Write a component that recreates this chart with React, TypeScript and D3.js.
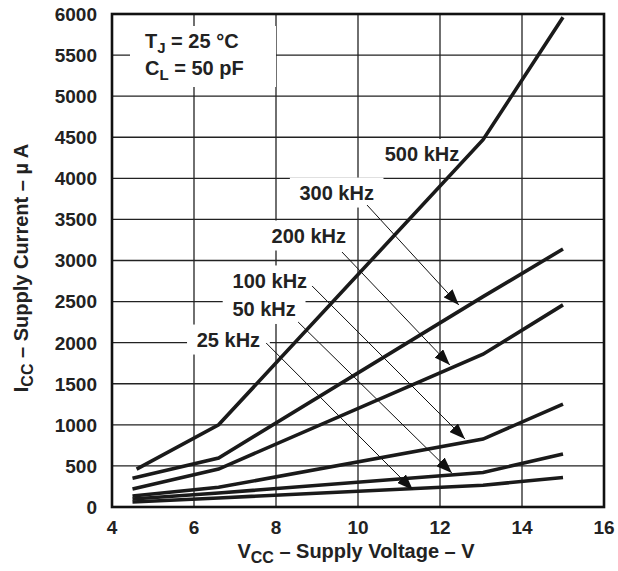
import React from 'react';
import * as d3 from 'd3';

// supply voltage (V) at the corner points of each curve
const vcc500 = [4.6, 6.6, 13.05, 15.0];
const vccOther = [4.5, 6.6, 13.05, 15.0];

// supply current (uA) per frequency
const icc500 = [460, 1000, 4470, 5960];
const icc300 = [350, 596, 2560, 3140];
const icc200 = [220, 462, 1860, 2460];
const icc100 = [134, 240, 827, 1253];
const icc50 = [97, 170, 420, 645];
const icc25 = [60, 110, 265, 360];

const freqLabels = ['500 kHz', '300 kHz', '200 kHz', '100 kHz', '50 kHz', '25 kHz'];
// label centres (data units)
const labelV = [11.56, 9.48, 8.8, 7.85, 7.71, 6.84];
const labelI = [4296, 3827, 3304, 2757, 2410, 2038];
// leader arrows: from label to curve (null for 500 kHz)
const arrowFrom = [null, [10.22, 3675], [9.61, 3103], [8.88, 2690], [8.54, 2251], [7.76, 1996]];
const arrowTo = [null, [12.46, 2458], [12.24, 1728], [12.61, 827], [12.29, 414], [11.34, 207]];

const xTicks = [4, 6, 8, 10, 12, 14, 16];
const yTicks = [0, 500, 1000, 1500, 2000, 2500, 3000, 3500, 4000, 4500, 5000, 5500, 6000];

const W = 618, H = 571;
const left = 112, top = 14, right = 604, bottom = 507;
const font = '"Liberation Sans", Arial, Helvetica, sans-serif';

export default function App() {
  const x = d3.scaleLinear().domain([4, 16]).range([left, right]);
  const y = d3.scaleLinear().domain([0, 6000]).range([bottom, top]);

  const series = [
    { v: vcc500, i: icc500 },
    { v: vccOther, i: icc300 },
    { v: vccOther, i: icc200 },
    { v: vccOther, i: icc100 },
    { v: vccOther, i: icc50 },
    { v: vccOther, i: icc25 },
  ];

  const line = d3.line<[number, number]>()
    .x(d => x(d[0]))
    .y(d => y(d[1]));

  // approximate text widths for the white label boxes
  const labelW = (s: string) => s.length * 10.8;

  return (
    <svg width={W} height={H} style={{ position: 'absolute', left: 0, top: 0, background: '#fff' }}
      fontFamily={font} fontWeight="bold">
      <defs>
        <marker id="ah" viewBox="0 0 16 12" refX="16" refY="6" markerWidth="16" markerHeight="12"
          markerUnits="userSpaceOnUse" orient="auto">
          <path d="M0,0 L16,6 L0,12 Z" fill="#111" />
        </marker>
      </defs>

      {/* grid */}
      {xTicks.slice(1, -1).map(t => (
        <line key={'gx' + t} x1={x(t)} x2={x(t)} y1={top} y2={bottom} stroke="#222" strokeWidth={1.3} />
      ))}
      {yTicks.slice(1, -1).map(t => (
        <line key={'gy' + t} x1={left} x2={right} y1={y(t)} y2={y(t)} stroke="#222" strokeWidth={1.3} />
      ))}

      {/* white boxes behind the annotations */}
      <rect x={130} y={26} width={146} height={61} fill="#fff" />
      {freqLabels.map((s, k) => {
        const w = labelW(s) + 18;
        return <rect key={'bx' + k} x={x(labelV[k]) - w / 2} y={y(labelI[k]) - 15} width={w} height={30} fill="#fff" />;
      })}

      {/* curves */}
      {series.map((s, k) => (
        <path key={'c' + k} d={line(s.v.map((v, j) => [v, s.i[j]] as [number, number])) || ''}
          fill="none" stroke="#1a1a1a" strokeWidth={3.6} strokeLinejoin="miter" />
      ))}

      {/* leader arrows */}
      {arrowFrom.map((f, k) => {
        const t = arrowTo[k];
        if (!f || !t) return null;
        return <line key={'a' + k} x1={x(f[0])} y1={y(f[1])} x2={x(t[0])} y2={y(t[1])}
          stroke="#111" strokeWidth={1} markerEnd="url(#ah)" />;
      })}

      {/* curve labels */}
      {freqLabels.map((s, k) => (
        <text key={'l' + k} x={x(labelV[k])} y={y(labelI[k])} dy="0.36em" textAnchor="middle"
          fontSize={20} fill="#222">{s}</text>
      ))}

      {/* conditions */}
      <text x={145} y={48} fontSize={20} fill="#222">
        T<tspan fontSize={15} dy={5}>J</tspan><tspan dy={-5}> = 25 °C</tspan>
      </text>
      <text x={145} y={75} fontSize={20} fill="#222">
        C<tspan fontSize={15} dy={5}>L</tspan><tspan dy={-5}> = 50 pF</tspan>
      </text>

      {/* frame */}
      <rect x={left} y={top} width={right - left} height={bottom - top} fill="none" stroke="#111" strokeWidth={2.6} />

      {/* tick labels */}
      {xTicks.map(t => (
        <text key={'tx' + t} x={x(t)} y={534} textAnchor="middle" fontSize={19} fill="#222">{t}</text>
      ))}
      {yTicks.map(t => (
        <text key={'ty' + t} x={97} y={y(t)} dy="0.36em" textAnchor="end" fontSize={19} fill="#222">{t}</text>
      ))}

      {/* axis titles */}
      <text x={356} y={558} textAnchor="middle" fontSize={20} fill="#222">
        V<tspan fontSize={16} dy={5}>CC</tspan><tspan dy={-5}> – Supply Voltage – V</tspan>
      </text>
      <text transform="translate(28,268) rotate(-90)" textAnchor="middle" fontSize={20} fill="#222">
        I<tspan fontSize={16} dy={5}>CC</tspan><tspan dy={-5}> – Supply Current – µ A</tspan>
      </text>
    </svg>
  );
}
